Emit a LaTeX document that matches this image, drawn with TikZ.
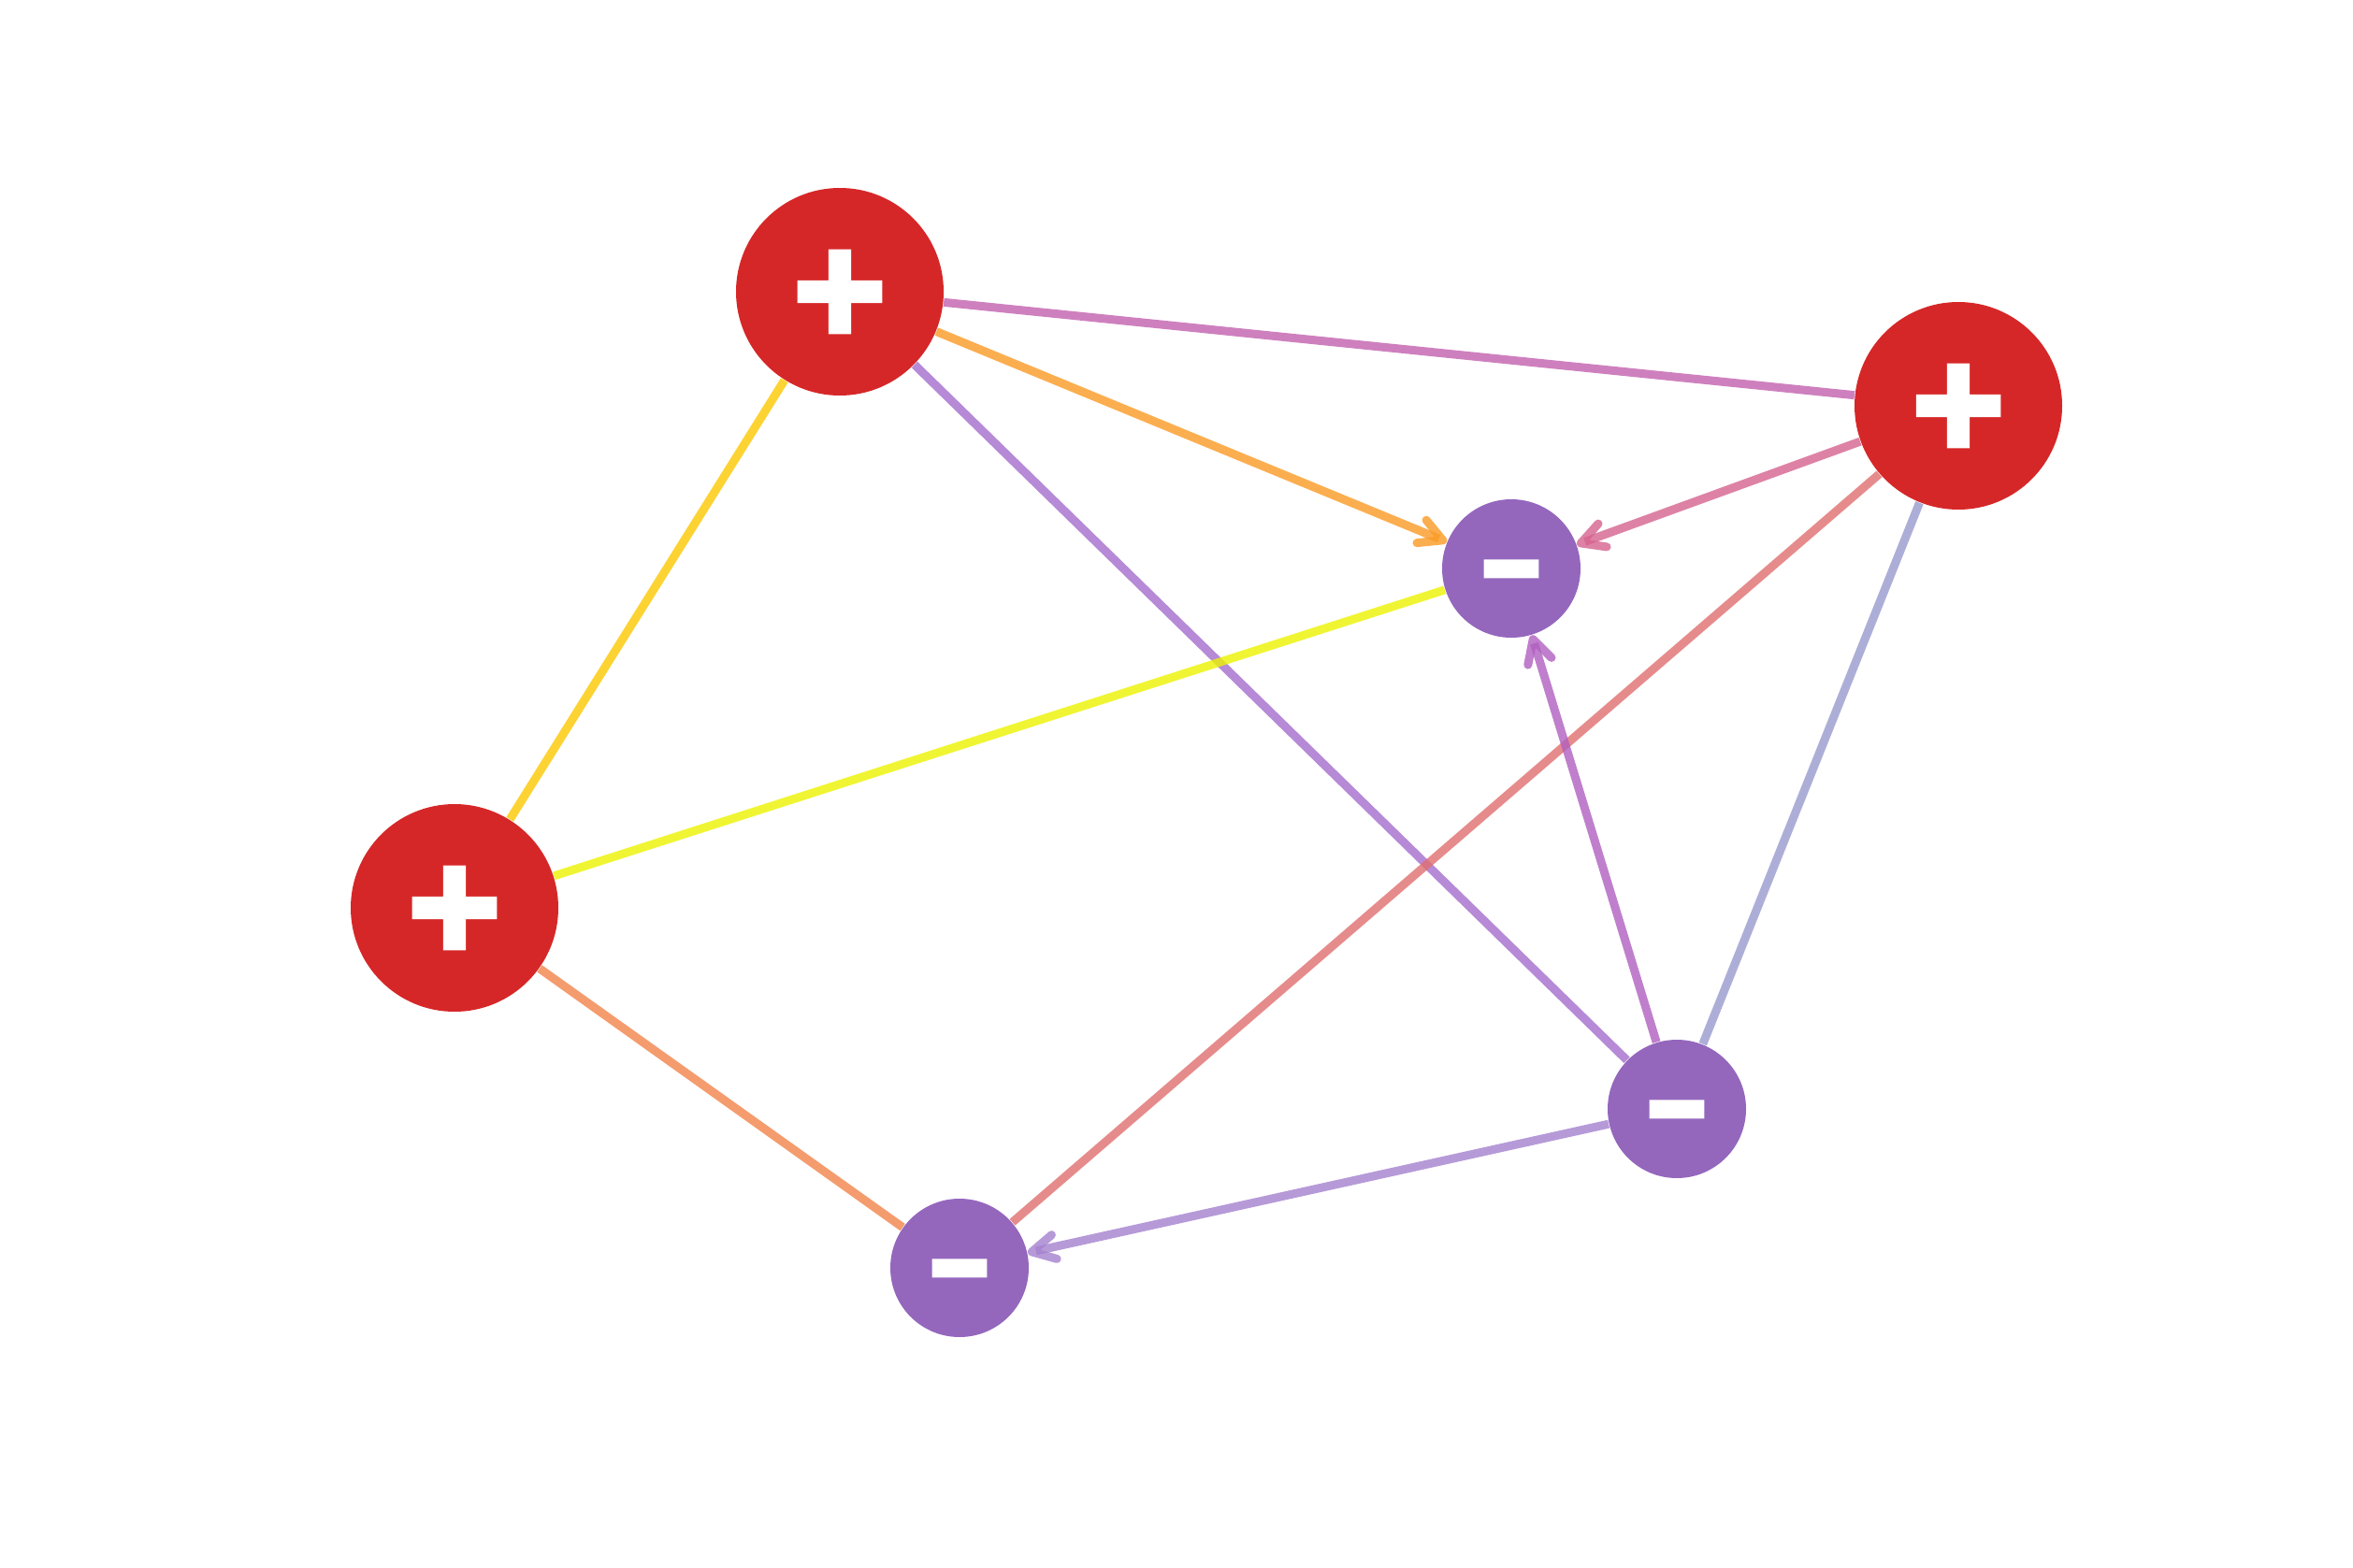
\documentclass[tikz,border=0pt]{standalone}
\usepackage{fontspec}
\newfontfamily\plusfont[FakeBold=7]{DejaVu Sans}
\newfontfamily\minusfont[FakeBold=4]{DejaVu Sans}
\usetikzlibrary{arrows.meta}
\usetikzlibrary{backgrounds}
\definecolor{posred}{HTML}{D62728}
\definecolor{negpurple}{HTML}{9467BD}
\definecolor{cA}{RGB}{194,96,174}
\definecolor{cB}{RGB}{250,154,36}
\definecolor{cC}{RGB}{164,109,204}
\definecolor{cD}{RGB}{251,200,0}
\definecolor{cE}{RGB}{236,243,0}
\definecolor{cF}{RGB}{241,131,74}
\definecolor{cG}{RGB}{213,99,143}
\definecolor{cH}{RGB}{224,110,110}
\definecolor{cI}{RGB}{153,154,206}
\definecolor{cJ}{RGB}{176,95,191}
\definecolor{cK}{RGB}{164,129,206}
\newcommand{\minussign}{\raisebox{-0.32cm}[0pt][0pt]{\scalebox{0.93}[0.6]{-}}}

\begin{document}
\begin{tikzpicture}
  \useasboundingbox (0,0) rectangle (25.16,-16.77);
  \tikzstyle{plusnode}=[circle,fill=posred,minimum size=2.22cm,inner sep=0pt,text=white,
                   font=\plusfont\bfseries\fontsize{37}{37}\selectfont]
  \tikzstyle{minusnode}=[circle,fill=negpurple,minimum size=1.48cm,inner sep=0pt,text=white,
                   font=\minusfont\bfseries\fontsize{52}{52}\selectfont]
  \node[plusnode] (pos-top)   at ( 8.98, -3.12) {+};
  \node[plusnode] (pos-right) at (20.94, -4.34) {+};
  \node[plusnode] (pos-left)  at ( 4.86, -9.71) {+};
  \node[minusnode] (neg-mid)   at (16.16, -6.08) {\minussign};
  \node[minusnode] (neg-low)   at (10.26,-13.56) {\minussign};
  \node[minusnode] (neg-right) at (17.93,-11.86) {\minussign};

%% draw connections
  \tikzstyle{link}=[line width=0.09cm,draw opacity=0.8]
  \tikzstyle{headed}=[-{Straight Barb[length=7pt,width=7.5pt,round]}]
  \begin{pgfonlayer}{background}
%% plain links
  \foreach \a/\b/\c in {pos-top/pos-right/cA, pos-top/neg-right/cC, pos-top/pos-left/cD,
                        pos-left/neg-mid/cE, pos-left/neg-low/cF,
                        pos-right/neg-low/cH, pos-right/neg-right/cI}
    \draw[link,\c] (\a) -- (\b);
%% directed links
  \foreach \a/\b/\c in {pos-top/neg-mid/cB, pos-right/neg-mid/cG,
                        neg-right/neg-mid/cJ, neg-right/neg-low/cK}
    \draw[link,headed,\c] (\a) -- (\b);
  \end{pgfonlayer}
\end{tikzpicture}
\end{document}
